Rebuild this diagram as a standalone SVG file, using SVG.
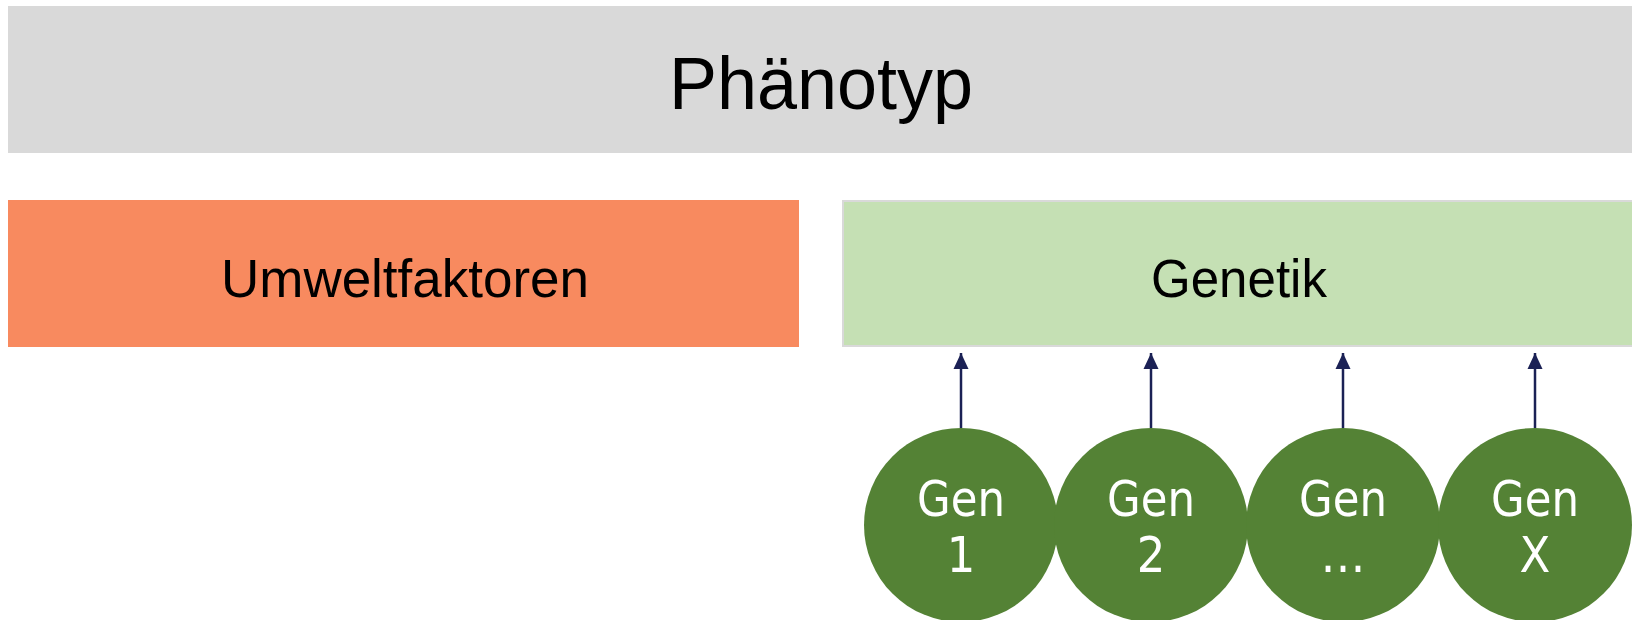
<svg xmlns="http://www.w3.org/2000/svg" width="1632" height="620" viewBox="0 0 1632 620">
  <style>
    .box-label { font-family: "Liberation Sans", Arial, sans-serif; fill: #000; text-anchor: middle; }
    .gene { fill: #548235; }
    .gene-label { font-family: "DejaVu Sans Condensed", "DejaVu Sans", sans-serif; font-size: 50px; fill: #fff; text-anchor: middle; }
    .link { stroke: #1b2155; stroke-width: 2.5; fill: none; marker-end: url(#arrow); }
  </style>
  <defs>
    <!-- arrowhead drawn along +x; orient="auto" turns it to follow each line -->
    <marker id="arrow" markerWidth="16" markerHeight="16" refX="16" refY="8" orient="auto" markerUnits="userSpaceOnUse" viewBox="0 0 16 16">
      <path d="M0,0.5 L16,8 L0,15.5 Z" fill="#1b2155"/>
    </marker>
  </defs>
  <rect width="1632" height="620" fill="#fff"/>

  <g id="phaenotyp">
    <rect x="8" y="6" width="1624" height="147" fill="#d9d9d9"/>
    <text class="box-label" x="821" y="109" font-size="74" textLength="304" lengthAdjust="spacingAndGlyphs">Phänotyp</text>
  </g>

  <g id="umweltfaktoren">
    <rect x="8" y="200" width="791" height="147" fill="#f88a5f"/>
    <text class="box-label" x="405" y="297" font-size="54" textLength="368" lengthAdjust="spacingAndGlyphs">Umweltfaktoren</text>
  </g>

  <g id="genetik">
    <rect x="843" y="201" width="790" height="145" fill="#c5e0b4" stroke="#d9d9d9" stroke-width="2"/>
    <text class="box-label" x="1239" y="297" font-size="54" textLength="176" lengthAdjust="spacingAndGlyphs">Genetik</text>
  </g>

  <g id="connectors">
    <line class="link" x1="961" y1="428" x2="961" y2="353"/>
    <line class="link" x1="1151" y1="428" x2="1151" y2="353"/>
    <line class="link" x1="1343" y1="428" x2="1343" y2="353"/>
    <line class="link" x1="1535" y1="428" x2="1535" y2="353"/>
  </g>

  <g id="gen-1">
    <circle class="gene" cx="961" cy="525" r="97"/>
    <text class="gene-label" x="961" y="516" textLength="88" lengthAdjust="spacingAndGlyphs">Gen</text>
    <text class="gene-label" x="961" y="572">1</text>
  </g>
  <g id="gen-2">
    <circle class="gene" cx="1151" cy="525" r="97"/>
    <text class="gene-label" x="1151" y="516" textLength="88" lengthAdjust="spacingAndGlyphs">Gen</text>
    <text class="gene-label" x="1151" y="572">2</text>
  </g>
  <g id="gen-dots">
    <circle class="gene" cx="1343" cy="525" r="97"/>
    <text class="gene-label" x="1343" y="516" textLength="88" lengthAdjust="spacingAndGlyphs">Gen</text>
    <text class="gene-label" x="1343" y="572">…</text>
  </g>
  <g id="gen-x">
    <circle class="gene" cx="1535" cy="525" r="97"/>
    <text class="gene-label" x="1535" y="516" textLength="88" lengthAdjust="spacingAndGlyphs">Gen</text>
    <text class="gene-label" x="1535" y="572">X</text>
  </g>
</svg>
